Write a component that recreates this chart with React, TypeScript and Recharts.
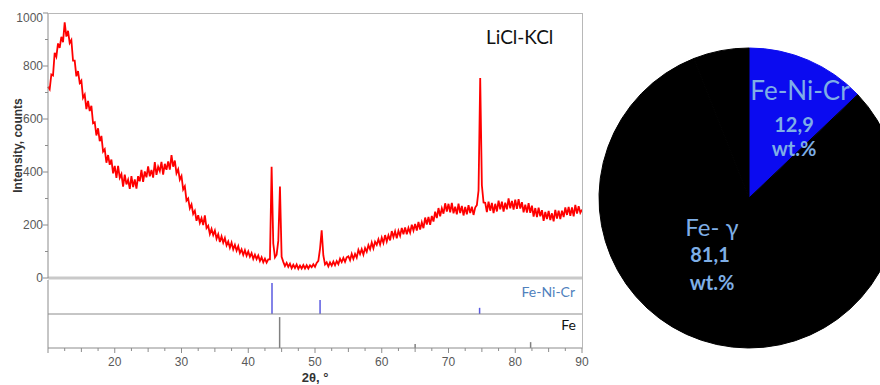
import { ComposedChart, Line, Bar, XAxis, YAxis, PieChart, Pie, Cell } from 'recharts'

// XRD scan, 10..90 deg 2theta, step 0.25 (counts)
const scanStart = 10
const scanStep = 0.25

const counts10to15 = [722, 712, 768, 764, 850, 835, 885, 868, 910, 890, 965, 911, 933, 887, 898, 820, 820, 761, 781, 736]
const counts15to20 = [745, 680, 692, 637, 668, 630, 650, 584, 588, 538, 565, 516, 536, 477, 486, 435, 464, 427, 447, 395]
const counts20to25 = [423, 378, 423, 378, 392, 345, 390, 353, 371, 336, 384, 343, 372, 337, 384, 365, 408, 363, 402, 380]
const counts25to30 = [421, 384, 408, 379, 437, 389, 420, 403, 438, 390, 431, 408, 440, 409, 464, 420, 443, 395, 410, 371]
const counts30to35 = [385, 334, 346, 292, 300, 263, 278, 242, 254, 216, 237, 208, 226, 200, 236, 188, 197, 166, 185, 162]
const counts35to40 = [179, 148, 165, 136, 157, 133, 151, 123, 138, 114, 134, 108, 125, 103, 120, 94, 108, 87, 105, 84]
const counts40to45 = [100, 80, 94, 72, 88, 71, 85, 64, 78, 59, 73, 58, 70, 70, 420, 130, 78, 88, 140, 345]
const counts45to50 = [80, 61, 45, 57, 42, 54, 37, 50, 38, 51, 35, 47, 36, 49, 36, 48, 36, 48, 41, 52]
const counts50to55 = [42, 57, 65, 110, 180, 85, 51, 59, 44, 59, 47, 62, 48, 64, 52, 73, 60, 76, 61, 78]
const counts55to60 = [82, 67, 91, 72, 91, 77, 106, 90, 109, 88, 113, 99, 124, 108, 134, 112, 137, 125, 146, 126]
const counts60to65 = [152, 132, 162, 138, 161, 142, 177, 154, 176, 150, 178, 159, 189, 165, 191, 165, 189, 171, 201, 179]
const counts65to70 = [204, 179, 212, 183, 210, 188, 228, 202, 230, 201, 234, 213, 250, 226, 264, 233, 263, 243, 282, 251]
const counts70to75 = [280, 248, 283, 244, 269, 240, 281, 245, 272, 236, 268, 240, 275, 245, 269, 238, 266, 275, 330, 755]
const counts75to80 = [350, 285, 284, 249, 288, 254, 283, 245, 280, 251, 292, 259, 288, 251, 284, 259, 300, 263, 291, 258]
const counts80to85 = [296, 261, 298, 262, 286, 248, 277, 247, 282, 246, 273, 232, 264, 230, 265, 233, 256, 216, 249, 222]
const counts85to90 = [253, 219, 244, 214, 257, 224, 254, 222, 254, 230, 266, 238, 268, 235, 266, 233, 276, 243, 271, 246, 258]

// reference stick patterns
const feNiCrPeaks = [43.6, 50.8, 74.7]
const feNiCrIntensity = [100, 45, 20]
const fePeaks = [44.7, 65.0, 82.3]
const feIntensity = [100, 13, 19]

const xTicks = [10, 12.5, 15, 17.5, 20, 22.5, 25, 27.5, 30, 32.5, 35, 37.5, 40, 42.5, 45, 47.5, 50, 52.5, 55, 57.5, 60, 62.5, 65, 67.5, 70, 72.5, 75, 77.5, 80, 82.5, 85, 87.5, 90]
const yTicks = [0, 100, 200, 300, 400, 500, 600, 700, 800, 900, 1000]

// phase content, wt.%
const phaseNames = ['Fe-Ni-Cr', 'Fe- γ', '']
const phaseWt = [12.9, 81.1, 6.0]
const phaseColors = ['#0b0bf0', '#000000', '#000000']

const AXIS_FONT = '"Liberation Sans", Arial, sans-serif'
const LABEL_FONT = 'Lato, "Open Sans", sans-serif'
const AXIS_GRAY = '#8c8c8c'

const scanCounts = [
  ...counts10to15, ...counts15to20, ...counts20to25, ...counts25to30,
  ...counts30to35, ...counts35to40, ...counts40to45, ...counts45to50,
  ...counts50to55, ...counts55to60, ...counts60to65, ...counts65to70,
  ...counts70to75, ...counts75to80, ...counts80to85, ...counts85to90,
]
const xrdRows = scanCounts.map((c, i) => ({ twoTheta: scanStart + i * scanStep, counts: c }))
const feNiCrRows = feNiCrPeaks.map((p, i) => ({ twoTheta: p, intensity: feNiCrIntensity[i] }))
const feRows = fePeaks.map((p, i) => ({ twoTheta: p, intensity: feIntensity[i] }))
const pieRows = phaseNames.map((n, i) => ({ name: n, value: phaseWt[i] }))

function XTick(props: any) {
  const { x, y, payload } = props
  const v = payload.value as number
  const base = y - 8
  const major = v % 10 === 0
  const len = major ? 5 : v % 5 === 0 ? 4 : 3
  return (
    <g>
      <line x1={x} x2={x} y1={base} y2={base + len} stroke={AXIS_GRAY} />
      {major && v > 10 && (
        <text x={x} y={base + 14} textAnchor="middle" dominantBaseline="central" fill="#595959" fontSize={12} fontFamily={AXIS_FONT}>
          {v}
        </text>
      )}
    </g>
  )
}

function YTick(props: any) {
  const { x, y, payload } = props
  const v = payload.value as number
  const axisX = x + 8
  const major = v % 200 === 0
  return (
    <g>
      <line x1={axisX - (major ? 5 : 3)} x2={axisX} y1={y} y2={y} stroke={AXIS_GRAY} />
      {major && (
        <text x={axisX - 5} y={v === 1000 ? y + 5 : y} textAnchor="end" dominantBaseline="central" fill="#595959" fontSize={12} fontFamily={AXIS_FONT}>
          {v}
        </text>
      )}
    </g>
  )
}

const labelSpots = [
  { name: [51, -108], value: [45, -74], unit: [45, -50], size: 26 },
  { name: [-37, 28], value: [-39, 56], unit: [-37, 84], size: 24 },
]

function PhaseLabel(props: any) {
  const { cx, cy, index, name, value } = props
  const spot = labelSpots[index]
  if (!spot) return null
  const common = { textAnchor: 'middle' as const, dominantBaseline: 'central' as const, fill: '#7eaee6', fontFamily: LABEL_FONT }
  return (
    <g>
      <text x={cx + spot.name[0]} y={cy + spot.name[1]} fontSize={spot.size} {...common}>{name}</text>
      <text x={cx + spot.value[0]} y={cy + spot.value[1]} fontSize={20} fontWeight="bold" {...common}>
        {String(value).replace('.', ',')}
      </text>
      <text x={cx + spot.unit[0]} y={cy + spot.unit[1]} fontSize={20} fontWeight="bold" {...common}>wt.%</text>
    </g>
  )
}

export default function App() {
  return (
    <div style={{ position: 'absolute', left: 0, top: 0, width: 880, height: 385, overflow: 'hidden', background: '#fff' }}>
      {/* main diffractogram */}
      <div style={{ position: 'absolute', left: 0, top: 0 }}>
        <ComposedChart width={600} height={290} data={xrdRows} margin={{ top: 13, right: 18, bottom: 0, left: 8 }}>
          <XAxis dataKey="twoTheta" type="number" domain={[10, 90]} tick={false} tickLine={false} height={12} axisLine={{ stroke: '#c9c9c9', strokeWidth: 3 }} />
          <YAxis
            type="number"
            domain={[0, 1000]}
            ticks={yTicks}
            interval={0}
            tick={<YTick />}
            tickLine={false}
            width={40}
            axisLine={{ stroke: AXIS_GRAY }}
            label={{ value: 'Intensity, counts', angle: -90, position: 'insideLeft', offset: 10, style: { fontFamily: AXIS_FONT, fontSize: 12, fontWeight: 'bold', fill: '#333', textAnchor: 'middle' } }}
          />
          <Line dataKey="counts" stroke="#ff0000" strokeWidth={1.8} dot={false} isAnimationActive={false} />
        </ComposedChart>
      </div>

      {/* Fe-Ni-Cr reference */}
      <div style={{ position: 'absolute', left: 0, top: 270 }}>
        <ComposedChart width={600} height={45} data={feNiCrRows} margin={{ top: 10, right: 18, bottom: 0, left: 8 }}>
          <XAxis dataKey="twoTheta" type="number" domain={[10, 90]} tick={false} tickLine={false} height={1} axisLine={{ stroke: AXIS_GRAY }} />
          <YAxis type="number" domain={[0, 110]} tick={false} tickLine={false} width={40} axisLine={{ stroke: AXIS_GRAY }} />
          <Bar dataKey="intensity" fill="#5a5ae0" barSize={1.5} isAnimationActive={false} />
        </ComposedChart>
      </div>

      {/* Fe reference + 2theta axis */}
      <div style={{ position: 'absolute', left: 0, top: 314 }}>
        <ComposedChart width={600} height={71} data={feRows} margin={{ top: 0, right: 18, bottom: 0, left: 8 }}>
          <XAxis
            dataKey="twoTheta"
            type="number"
            domain={[10, 90]}
            ticks={xTicks}
            interval={0}
            tick={<XTick />}
            tickLine={false}
            height={37}
            axisLine={{ stroke: AXIS_GRAY }}
            label={{ value: '2θ, °', position: 'insideBottom', offset: 3, style: { fontFamily: AXIS_FONT, fontSize: 13, fontWeight: 'bold', fill: '#333' } }}
          />
          <YAxis type="number" domain={[0, 110]} tick={false} tickLine={false} width={40} axisLine={{ stroke: AXIS_GRAY }} />
          <Bar dataKey="intensity" fill="#808080" barSize={1.5} isAnimationActive={false} />
        </ComposedChart>
      </div>

      {/* frame top/right */}
      <div style={{ position: 'absolute', left: 48, top: 13, width: 534, height: 335, borderTop: '1px solid #b8b8b8', borderRight: '1px solid #b8b8b8', pointerEvents: 'none' }} />

      <div style={{ position: 'absolute', left: 486, top: 26, fontFamily: LABEL_FONT, fontSize: 19, lineHeight: '22px', color: '#111' }}>LiCl-KCl</div>
      <div style={{ position: 'absolute', right: 880 - 575, top: 284, fontFamily: LABEL_FONT, fontSize: 14, lineHeight: '16px', color: '#4f81bd' }}>Fe-Ni-Cr</div>
      <div style={{ position: 'absolute', right: 880 - 576, top: 317, fontFamily: LABEL_FONT, fontSize: 14, lineHeight: '16px', color: '#111' }}>Fe</div>

      {/* phase fractions */}
      <div style={{ position: 'absolute', left: 590, top: 0 }}>
        <PieChart width={300} height={385}>
          <Pie
            data={pieRows}
            dataKey="value"
            nameKey="name"
            cx={154}
            cy={193}
            outerRadius={150}
            startAngle={90}
            endAngle={-270}
            label={<PhaseLabel />}
            labelLine={false}
            isAnimationActive={false}
          >
            {pieRows.map((r, i) => (
              <Cell key={r.name + i} fill={phaseColors[i]} stroke={phaseColors[i]} strokeWidth={1} />
            ))}
          </Pie>
        </PieChart>
      </div>
    </div>
  )
}
